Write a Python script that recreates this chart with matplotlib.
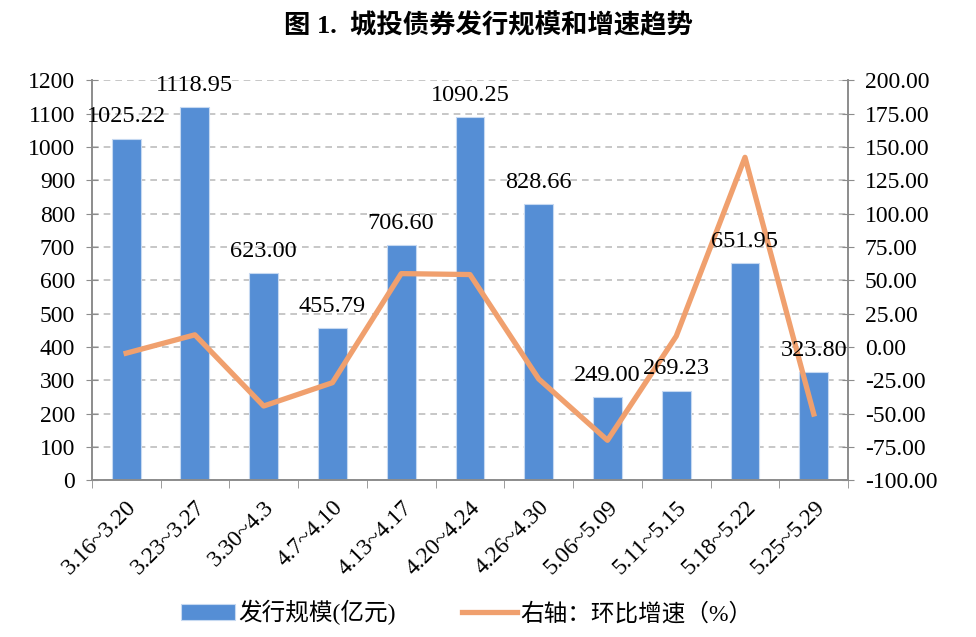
import matplotlib.pyplot as plt
import numpy as np

plt.rcParams['font.family'] = ['Liberation Serif', 'Noto Sans CJK SC']

weeks = ["3.16~3.20", "3.23~3.27", "3.30~4.3", "4.7~4.10", "4.13~4.17", "4.20~4.24",
         "4.26~4.30", "5.06~5.09", "5.11~5.15", "5.18~5.22", "5.25~5.29"]
issuance = [1025.22, 1118.95, 623.00, 455.79, 706.60, 1090.25, 828.66, 249.00, 269.23, 651.95, 323.80]
growth = [-4.7, 9.1, -44.3, -26.8, 55.0, 54.3, -24.0, -70.0, 8.1, 142.2, -50.3]

bar_color = '#558ED5'
line_color = '#F0A06E'
axis_color = '#8C8C8C'

fig = plt.figure(figsize=(9.76, 6.37), dpi=100)
ax = fig.add_axes([0.094, 0.246, 0.775, 0.628])
ax2 = ax.twinx()

x = np.arange(len(weeks))
ax.bar(x, issuance, width=0.42, color=bar_color, edgecolor='#C6D9F1', lw=0.8,
       label='发行规模(亿元)', zorder=2)

ax2.plot(x, growth, color=line_color, lw=3.8, label='右轴：环比增速（%）', zorder=3)
# data labels drawn on top of the line
for xi, v in zip(x, issuance):
    ax2.annotate(f"{v:.2f}", xy=(xi, v), xycoords=ax.transData, xytext=(0, 8),
                 textcoords='offset points', ha='center', va='bottom', fontsize=17.5, zorder=5)

ax.set_xlim(-0.5, len(weeks) - 0.5)
ax.set_ylim(0, 1200)
ax.set_yticks(np.arange(0, 1201, 100))
ax.tick_params(axis='y', labelsize=17, length=8, direction='inout', color=axis_color, pad=8)
ax.yaxis.grid(True, linestyle=(0, (4, 3)), color='#BDBDBD', lw=1.2, zorder=0)
ax.set_axisbelow(True)

ax2.set_ylim(-100, 200)
ax2.set_yticks(np.arange(-100, 201, 25))
ax2.set_yticklabels([f"{t:.2f}" for t in np.arange(-100, 201, 25)])
ax2.tick_params(axis='y', labelsize=17, length=8, direction='inout', color=axis_color, pad=8)

ax.set_xticks(x)
ax.set_xticklabels(weeks, rotation=45, ha='right', rotation_mode='anchor', fontsize=17)
ax.tick_params(axis='x', length=0, pad=12)
ax.set_xticks(np.arange(-0.5, len(weeks), 1), minor=True)
ax.tick_params(axis='x', which='minor', length=6, color=axis_color)

for a in (ax, ax2):
    a.spines['top'].set_visible(False)
    for s in ('left', 'right', 'bottom'):
        a.spines[s].set_color(axis_color)
        a.spines[s].set_linewidth(1.2)
ax2.set_zorder(ax.get_zorder() + 1)
ax2.patch.set_visible(False)

fig.suptitle('图 1.  城投债券发行规模和增速趋势', fontsize=19, fontweight='bold', y=0.98)

h1, l1 = ax.get_legend_handles_labels()
h2, l2 = ax2.get_legend_handles_labels()
fig.legend(h1 + h2, l1 + l2, loc='center', bbox_to_anchor=(0.478, 0.038), ncol=2,
           frameon=False, fontsize=17, handlelength=2.3, handletextpad=0.15, columnspacing=2.8)

fig.savefig('out.png', dpi=100)
